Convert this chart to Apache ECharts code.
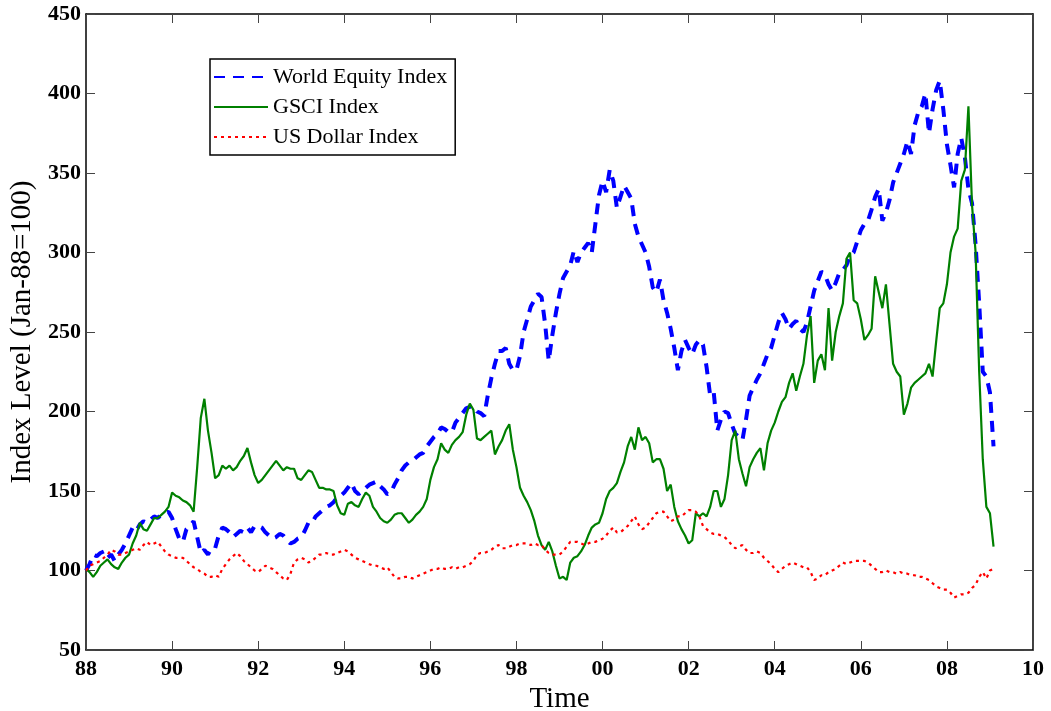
<!DOCTYPE html>
<html>
<head>
<meta charset="utf-8">
<script src="https://cdn.jsdelivr.net/npm/echarts@6/dist/echarts.min.js"></script>
<style>
  html, body { margin: 0; padding: 0; background: #ffffff; }
  #chart { width: 1051px; height: 711px; }
</style>
</head>
<body>
<div id="chart"></div>
<script>
// Monthly index levels, Jan 1988 = 100, from Jan 1988 through Feb 2009.
const startYear = 1988;

const worldEquity = [
  /* 1988 */ 100, 104, 110, 109, 111, 112, 108, 110, 106, 110, 113, 117,
  /* 1989 */ 122, 127, 125, 129, 131, 130, 132, 134, 133, 135, 136, 137,
  /* 1990 */ 133, 126, 120, 118, 126, 128, 131, 121, 111, 113, 110, 114,
  /* 1991 */ 114, 122, 127, 126, 124, 121, 123, 125, 124, 127, 124, 128,
  /* 1992 */ 128, 127, 124, 122, 120, 121, 123, 122, 119, 117, 118, 120,
  /* 1993 */ 121, 125, 130, 130, 134, 136, 138, 140, 141, 143, 146, 147,
  /* 1994 */ 149, 152, 155, 150, 148, 150, 152, 154, 155, 156, 153, 151,
  /* 1995 */ 148, 149, 154, 158, 163, 166, 168, 169, 171, 173, 174, 178,
  /* 1996 */ 181, 184, 186, 190, 189, 187, 187, 193, 196, 199, 202, 203,
  /* 1997 */ 203, 200, 199, 197, 210, 221, 230, 238, 238, 240, 230, 226,
  /* 1998 */ 226, 235, 250, 258, 266, 270, 274, 272, 255, 232, 248, 262,
  /* 1999 */ 274, 284, 288, 292, 301, 294, 300, 303, 306, 300, 318, 336,
  /* 2000 */ 345, 338, 352, 345, 328, 335, 342, 338, 334, 318, 310, 305,
  /* 2001 */ 300, 291, 278, 275, 283, 270, 262, 252, 240, 226, 238, 245,
  /* 2002 */ 240, 236, 242, 245, 242, 228, 210, 212, 188, 195, 200, 199,
  /* 2003 */ 192, 186, 184, 182, 195, 210, 215, 220, 224, 230, 236, 240,
  /* 2004 */ 248, 256, 262, 258, 252, 255, 257, 252, 250, 256, 266, 276,
  /* 2005 */ 282, 288, 286, 280, 276, 281, 287, 289, 292, 298, 300, 307,
  /* 2006 */ 314, 318, 320, 327, 335, 340, 320, 325, 333, 344, 350, 356,
  /* 2007 */ 362, 370, 362, 380, 388, 392, 400, 375, 390, 402, 408, 390,
  /* 2008 */ 368, 355, 341, 362, 372, 360, 340, 331, 305, 268, 225, 222,
  /* 2009 */ 212, 178
];

const gsci = [
  /* 1988 */ 101, 99, 96, 99, 103, 105, 107, 104, 102, 101, 105, 108,
  /* 1989 */ 110, 117, 122, 130, 126, 125, 129, 133, 133, 135, 137, 140,
  /* 1990 */ 149, 147, 146, 144, 143, 141, 137, 165, 196, 208, 188, 174,
  /* 1991 */ 158, 160, 166, 164, 166, 163, 165, 169, 172, 177, 168, 160,
  /* 1992 */ 155, 157, 160, 163, 166, 169, 166, 163, 165, 164, 164, 158,
  /* 1993 */ 157, 160, 163, 162, 157, 152, 152, 151, 151, 150, 141, 136,
  /* 1994 */ 135, 142, 143, 141, 140, 145, 149, 147, 140, 137, 133, 131,
  /* 1995 */ 130, 132, 135, 136, 136, 133, 130, 132, 135, 137, 140, 145,
  /* 1996 */ 157, 165, 170, 180, 176, 174, 179, 182, 184, 187, 198, 205,
  /* 1997 */ 201, 183, 182, 184, 186, 188, 173, 178, 182, 188, 192, 176,
  /* 1998 */ 165, 152, 147, 143, 138, 131, 122, 116, 113, 118, 112, 103,
  /* 1999 */ 95, 96, 94, 105, 108, 109, 112, 116, 122, 127, 129, 130,
  /* 2000 */ 136, 145, 150, 152, 155, 162, 168, 178, 184, 176, 190, 182,
  /* 2001 */ 184, 180, 168, 170, 170, 164, 150, 154, 140, 131, 126, 122,
  /* 2002 */ 117, 119, 136, 134, 136, 134, 140, 150, 150, 140, 145, 160,
  /* 2003 */ 182, 188, 170, 161, 153, 165, 170, 174, 177, 163, 180, 188,
  /* 2004 */ 193, 200, 206, 209, 218, 224, 213, 222, 230, 248, 260, 218,
  /* 2005 */ 232, 236, 226, 265, 232, 250, 260, 268, 296, 300, 270, 268,
  /* 2006 */ 258, 245, 248, 252, 285, 275, 265, 280, 255, 230, 225, 222,
  /* 2007 */ 198, 205, 215, 218, 220, 222, 224, 230, 222, 244, 265, 268,
  /* 2008 */ 280, 300, 310, 315, 345, 352, 392, 330, 300, 225, 170, 140,
  /* 2009 */ 136, 115
];

const usDollar = [
  /* 1988 */ 100, 103, 104, 105, 106, 108, 110, 113, 112, 110, 110, 111,
  /* 1989 */ 112, 113, 114, 113, 116, 118, 116, 117, 118, 115, 112, 110,
  /* 1990 */ 109, 108, 108, 108, 106, 104, 102, 101, 99, 98, 96, 96,
  /* 1991 */ 97, 96, 101, 104, 107, 109, 111, 109, 106, 104, 102, 100,
  /* 1992 */ 99, 101, 103, 102, 101, 99, 97, 95, 94, 98, 105, 107,
  /* 1993 */ 108, 107, 105, 106, 108, 110, 110, 111, 110, 110, 111, 112,
  /* 1994 */ 113, 112, 110, 108, 107, 106, 105, 104, 103, 103, 102, 101,
  /* 1995 */ 102, 99, 96, 95, 95, 96, 96, 95, 96, 97, 98, 99,
  /* 1996 */ 100, 101, 101, 102, 101, 101, 102, 101, 102, 102, 103, 104,
  /* 1997 */ 106, 110, 111, 111, 112, 113, 115, 116, 114, 114, 115, 116,
  /* 1998 */ 116, 117, 117, 117, 116, 117, 116, 116, 113, 111, 110, 110,
  /* 1999 */ 110, 112, 115, 118, 118, 118, 117, 116, 117, 118, 118, 119,
  /* 2000 */ 120, 122, 125, 127, 124, 124, 126, 128, 131, 134, 129, 126,
  /* 2001 */ 127, 130, 133, 136, 137, 137, 134, 131, 132, 134, 134, 136,
  /* 2002 */ 138, 138, 137, 134, 128, 126, 124, 123, 123, 122, 121, 119,
  /* 2003 */ 116, 114, 115, 116, 113, 111, 111, 112, 111, 108, 106, 104,
  /* 2004 */ 101, 99, 101, 103, 104, 105, 104, 103, 102, 102, 99, 94,
  /* 2005 */ 95, 97, 97, 99, 100, 101, 103, 105, 104, 105, 106, 106,
  /* 2006 */ 106, 106, 105, 103, 101, 99, 99, 100, 99, 99, 98, 99,
  /* 2007 */ 98, 98, 97, 97, 96, 96, 95, 94, 92, 90, 89, 88,
  /* 2008 */ 88, 86, 83, 84, 85, 85, 86, 89, 91, 96, 99, 95,
  /* 2009 */ 100, 101
];

// Axis ticks: every two years, labelled with two-digit years.
const xTicks = [1988, 1990, 1992, 1994, 1996, 1998, 2000, 2002, 2004, 2006, 2008, 2010];
const yTicks = [50, 100, 150, 200, 250, 300, 350, 400, 450];

const seriesNames = ['World Equity Index', 'GSCI Index', 'US Dollar Index'];

function toPoints(values) {
  return values.map((v, i) => [startYear + i / 12, v]);
}

const serif = "'Liberation Serif', 'Times New Roman', serif";

const chart = echarts.init(document.getElementById('chart'), null, { renderer: 'canvas' });

const tickLabelStyle = {
  fontFamily: serif,
  fontSize: 22,
  fontWeight: 'bold',
  color: '#000'
};

const axisLineStyle = { color: '#000', width: 1.5 };
const tickStyle = { color: '#444', width: 1 };

chart.setOption({
  backgroundColor: '#ffffff',
  animation: false,
  grid: { left: 86, right: 18, top: 14, bottom: 61, containLabel: false, outerBoundsMode: 'none' },
  legend: {
    data: seriesNames,
    orient: 'vertical',
    left: 210,
    top: 59,
    itemWidth: 54,
    itemHeight: 14,
    itemGap: 8,
    padding: [7, 8, 7, 3],
    borderColor: '#000',
    borderWidth: 1.5,
    backgroundColor: '#fff',
    // keep only the line sample in each legend key
    itemStyle: { opacity: 0 },
    textStyle: { fontFamily: serif, fontSize: 22, color: '#000', lineHeight: 20 }
  },
  xAxis: [
    {
      type: 'value',
      min: xTicks[0],
      max: xTicks[xTicks.length - 1],
      interval: 2,
      name: 'Time',
      nameLocation: 'middle',
      nameGap: 25,
      nameTextStyle: { fontFamily: serif, fontSize: 29, color: '#000' },
      axisLine: { show: true, onZero: false, lineStyle: axisLineStyle },
      axisTick: { show: true, inside: true, length: 9, lineStyle: tickStyle },
      axisLabel: {
        ...tickLabelStyle,
        margin: 8,
        formatter: v => String(v % 100).padStart(2, '0')
      },
      splitLine: { show: false }
    },
    {
      type: 'value',
      position: 'top',
      min: xTicks[0],
      max: xTicks[xTicks.length - 1],
      interval: 2,
      axisLine: { show: true, onZero: false, lineStyle: axisLineStyle },
      axisTick: { show: true, inside: true, length: 9, lineStyle: tickStyle },
      axisLabel: { show: false },
      splitLine: { show: false }
    }
  ],
  yAxis: [
    {
      type: 'value',
      min: yTicks[0],
      max: yTicks[yTicks.length - 1],
      interval: 50,
      name: 'Index Level (Jan-88=100)',
      nameLocation: 'middle',
      nameGap: 46,
      nameTextStyle: { fontFamily: serif, fontSize: 29, color: '#000' },
      axisLine: { show: true, onZero: false, lineStyle: axisLineStyle },
      axisTick: { show: true, inside: true, length: 9, lineStyle: tickStyle },
      axisLabel: { ...tickLabelStyle, margin: 5 },
      splitLine: { show: false }
    },
    {
      type: 'value',
      position: 'right',
      min: yTicks[0],
      max: yTicks[yTicks.length - 1],
      interval: 50,
      axisLine: { show: true, onZero: false, lineStyle: axisLineStyle },
      axisTick: { show: true, inside: true, length: 9, lineStyle: tickStyle },
      axisLabel: { show: false },
      splitLine: { show: false }
    }
  ],
  series: [
    {
      name: seriesNames[0],
      type: 'line',
      data: toPoints(worldEquity),
      showSymbol: false,
      symbol: 'none',
      color: '#0000ff',
      lineStyle: { color: '#0000ff', width: 4, type: [11, 8] }
    },
    {
      name: seriesNames[1],
      type: 'line',
      data: toPoints(gsci),
      showSymbol: false,
      symbol: 'none',
      color: '#008000',
      lineStyle: { color: '#008000', width: 2.2 }
    },
    {
      name: seriesNames[2],
      type: 'line',
      data: toPoints(usDollar),
      showSymbol: false,
      symbol: 'none',
      color: '#ff0000',
      lineStyle: { color: '#ff0000', width: 2.2, type: [3, 4] }
    }
  ]
});
</script>
</body>
</html>
